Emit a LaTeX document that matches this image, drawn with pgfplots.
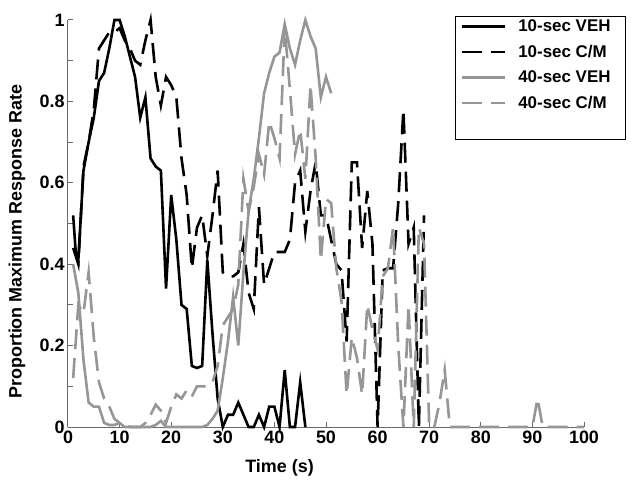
\documentclass[border=0pt]{standalone}
\usepackage{pgfplots}
\pgfplotsset{compat=1.18}
\usepackage{fontspec}
\setmainfont{Liberation Sans}
\definecolor{lg}{RGB}{150,150,150}
\definecolor{axc}{RGB}{105,105,105}
\begin{document}
\begin{tikzpicture}
\useasboundingbox (-68bp,-59bp) rectangle (563bp,427bp);
\begin{axis}[
  scale only axis, width=516bp, height=407bp,
  xmin=0, xmax=100, ymin=0, ymax=1,
  axis lines=left, axis line style={-, axc, line width=1bp},
  tick align=inside, tick style={axc, line width=1bp},
  major tick length=5bp, minor tick length=5bp,
  xtick={0,10,...,100}, ytick={0,0.2,0.4,0.6,0.8,1},
  yticklabels={0,0.2,0.4,0.6,0.8,1},
  minor y tick num=1,
  /pgf/number format/assume math mode=true,
  tick label style={font=\bfseries\fontsize{18}{18}\selectfont, black},
  xlabel={Time (s)}, ylabel={Proportion Maximum Response Rate},
  label style={font=\bfseries\fontsize{18}{18}\selectfont},
  xlabel style={at={(axis description cs:0.41,-0.1007)}, anchor=center},
  ylabel style={at={(axis description cs:-0.0988,0.455)}, anchor=center},
  clip=false,
  legend cell align=left,
  legend image code/.code={\draw[#1] (0bp,0bp) -- (43bp,0bp);},
  legend style={at={(axis description cs:0.75,1.01)}, anchor=north west,
    draw=black, line width=1.4bp, inner xsep=5bp, inner ysep=1bp,
    row sep=8bp, column sep=10bp,
    font=\bfseries\fontsize{17}{17}\selectfont},
]
\addplot[black, line width=2.6bp] coordinates {
(1,0.52)(1.5,0.43)(2,0.41)(3,0.63)(4,0.70)(5,0.76)(6,0.85)(7,0.87)(8,0.93)(9,1.0)(10,1.0)(11,0.96)(12,0.91)(13,0.86)(14,0.76)(15,0.81)(16,0.66)(17,0.64)(18,0.63)(19,0.34)(20,0.57)(21,0.46)(22,0.30)(23,0.29)(24,0.15)(25,0.145)(26,0.15)(27,0.41)(28,0.23)(29,0.07)(30,0)(31,0.03)(32,0.03)(33,0.06)(34,0.03)(35,0)(36,0)(37,0.03)(38,0)(39,0.05)(40,0.05)(41,0)(42,0.14)(43,0)(44,0)(45,0.11)(46,0)
};
\addlegendentry{\makebox[100bp][l]{10-sec VEH}}
\addplot[black, line width=2.6bp, dash pattern=on 20bp off 9bp] coordinates {
(1,0.44)(2,0.40)(3,0.64)(4,0.70)(5,0.78)(6,0.93)(7,0.95)(8,0.97)(9,0.97)(10,0.98)(11,0.95)(12,0.93)(13,0.90)(14,0.89)(15,0.95)(16,1.0)(17,0.86)(18,0.79)(19,0.86)(20,0.84)(21,0.81)(22,0.66)(23,0.57)(24,0.39)(25,0.49)(26,0.52)(27,0.42)(28,0.52)(29,0.63)(30,0.38)(31,0.37)(32,0.37)(33,0.38)(34,0.45)(35,0.33)(36,0.29)(37,0.54)(38,0.35)(39,0.39)(40,0.43)(41,0.43)(42,0.43)(43,0.46)(44,0.60)(45,0.63)(46,0.48)(47,0.58)(48,0.65)(49,0.52)(50,0.52)(51,0.46)(52,0.40)(53,0.385)(54,0.21)(55,0.65)(56,0.65)(57,0.44)(58,0.58)(59,0.45)(60,0)(61,0.385)(62,0.39)(63,0.39)(64,0.55)(65,0.78)(66,0.45)(67,0.49)(68,0)(69,0.52)
};
\addlegendentry{10-sec C/M}
\addplot[lg, line width=2.6bp] coordinates {
(1,0.40)(2,0.33)(3,0.165)(4,0.06)(5,0.05)(6,0.05)(7,0.01)(8,0.005)(9,0.005)(10,0.01)(11,0)(12,0)(13,0)(14,0)(15,0)(16,0)(17,0.005)(18,0.015)(19,0)(20,0)(21,0)(22,0)(23,0)(24,0)(25,0)(26,0)(27,0.005)(28,0.02)(29,0.04)(30,0.12)(31,0.21)(32,0.32)(33,0.2)(34,0.38)(35,0.53)(36,0.61)(37,0.71)(38,0.82)(39,0.87)(40,0.91)(41,0.92)(42,0.99)(43,0.93)(44,0.89)(45,0.95)(46,1.0)(47,0.96)(48,0.93)(49,0.81)(50,0.86)(51,0.82)
};
\addlegendentry{40-sec VEH}
\addplot[lg, line width=2.6bp, dash pattern=on 20bp off 9bp] coordinates {
(1,0.12)(2,0.30)(3,0.28)(4,0.38)(5,0.22)(6,0.11)(7,0.07)(8,0.05)(9,0.02)(10,0.01)(11,0.005)(12,0)(13,0)(14,0)(15,0.01)(16,0.03)(17,0.055)(18,0.04)(19,0.01)(20,0.05)(21,0.08)(22,0.07)(23,0.09)(24,0.075)(25,0.1)(26,0.1)(27,0.1)(28,0.11)(29,0.15)(30,0.25)(31,0.27)(32,0.29)(33,0.35)(34,0.61)(35,0.53)(36,0.59)(37,0.67)(38,0.62)(39,0.75)(40,0.71)(41,0.66)(42,0.98)(43,0.83)(44,0.67)(45,0.73)(46,0.61)(47,0.84)(48,0.66)(49,0.41)(50,0.56)(51,0.55)(52,0.39)(53,0.31)(54,0.08)(55,0.22)(56,0.17)(57,0.08)(58,0.30)(59,0.24)(60,0.19)(61,0.37)(62,0.39)(63,0.49)(64,0.2)(65,0)(66,0.3)(67,0)(68,0.49)(69,0.45)(70,0)(71,0)(72,0.06)(73,0.14)(74,0)(80,0)(90,0)(91,0.07)(92,0)(100,0)
};
\addlegendentry{40-sec C/M}
\addlegendimage{empty legend}
\addlegendentry{}
\addlegendimage{empty legend}
\addlegendentry{}
\end{axis}
\end{tikzpicture}
\end{document}
